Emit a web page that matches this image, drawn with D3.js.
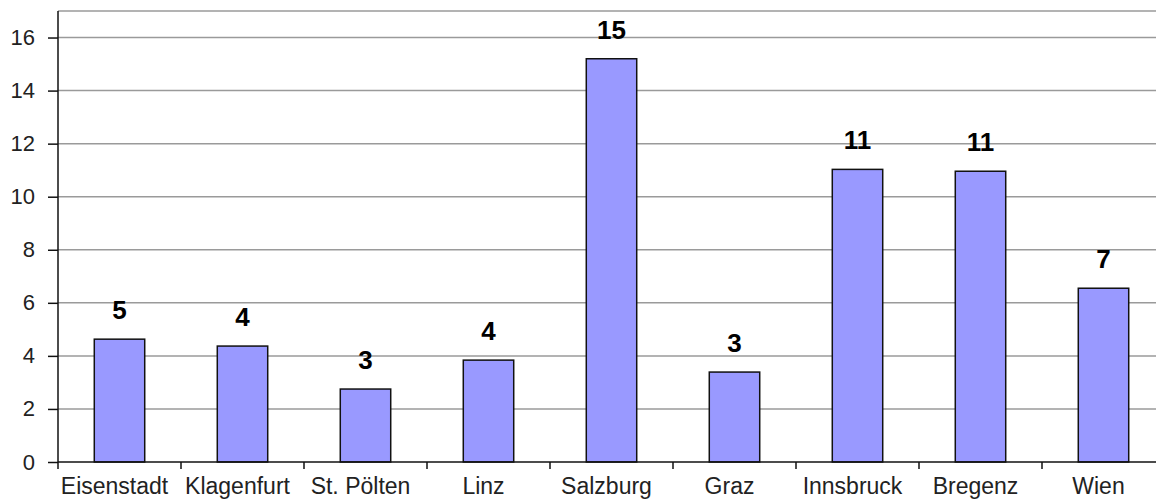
<!DOCTYPE html>
<html>
<head>
<meta charset="utf-8">
<script src="https://cdn.jsdelivr.net/npm/d3@7"></script>
<style>
  body { margin: 0; background: #fff; }
  text { font-family: "Liberation Sans", Arial, sans-serif; }
</style>
</head>
<body>
<div class="chart"></div>
<script>
'use strict'
// Data
const cities = ['Eisenstadt', 'Klagenfurt', 'St. Pölten', 'Linz', 'Salzburg', 'Graz', 'Innsbruck', 'Bregenz', 'Wien']
const values = [4.63, 4.37, 2.75, 3.84, 15.2, 3.39, 11.03, 10.96, 6.55]
const valueLabels = ['5', '4', '3', '4', '15', '3', '11', '11', '7']
const yTicks = [0, 2, 4, 6, 8, 10, 12, 14, 16]

const data = cities.map((c, i) => ({ city: c, value: values[i], label: valueLabels[i] }))

const W = 1156, H = 500
const margin = { top: 11, right: -9, bottom: 38, left: 58 }
const width = W - margin.left - margin.right
const height = H - margin.top - margin.bottom

const x = d3.scaleBand(cities, [0, width]).paddingInner(0.59).paddingOuter(0.295)
const band = d3.scaleBand(cities, [0, width])
const y = d3.scaleLinear([0, 17], [height, 0])

const svg = d3.select('.chart').append('svg')
  .attr('width', W).attr('height', H)
  .append('g')
  .attr('transform', `translate(${margin.left},${margin.top})`)

// gridlines
svg.append('g')
  .selectAll('line')
  .data(yTicks.filter(d => d > 0).concat([17]))
  .join('line')
  .attr('x1', 0).attr('x2', width)
  .attr('y1', d => y(d)).attr('y2', d => y(d))
  .attr('stroke', '#9a9a9a').attr('stroke-width', 1.5)

// bars
svg.append('g')
  .selectAll('rect')
  .data(data)
  .join('rect')
  .attr('x', d => x(d.city))
  .attr('y', d => y(d.value))
  .attr('width', x.bandwidth())
  .attr('height', d => y(0) - y(d.value))
  .attr('fill', '#9999ff')
  .attr('stroke', '#111')
  .attr('stroke-width', 1.5)

// value labels
svg.append('g')
  .selectAll('text')
  .data(data)
  .join('text')
  .attr('x', d => x(d.city) + x.bandwidth() / 2)
  .attr('y', d => y(d.value) - 20)
  .attr('text-anchor', 'middle')
  .style('font-size', '26px')
  .style('font-weight', 'bold')
  .attr('fill', '#000')
  .text(d => d.label)

// y axis
const yAxis = svg.append('g')
  .call(d3.axisLeft(y).tickValues(yTicks).tickSize(10).tickPadding(13))
yAxis.select('.domain').attr('d', `M0,${height}V0`).attr('stroke', '#111').attr('stroke-width', 1.5)
yAxis.selectAll('.tick line').attr('stroke', '#111').attr('stroke-width', 1.5)
yAxis.selectAll('text').style('font-size', '22px').attr('fill', '#222')
  .attr('font-family', null)

// x axis
const xAxis = svg.append('g')
  .attr('transform', `translate(0,${height})`)
  .call(d3.axisBottom(x).tickSize(0).tickPadding(16))
xAxis.select('.domain').attr('d', `M0,0H${width}`).attr('stroke', '#111').attr('stroke-width', 1.5)
xAxis.selectAll('text').style('font-size', '23px').attr('fill', '#222')
  .attr('font-family', null).attr('dy', '0.71em')
  .attr('dx', '-5')
// category separator ticks
xAxis.append('g')
  .selectAll('line')
  .data(cities)
  .join('line')
  .attr('x1', d => band(d)).attr('x2', d => band(d))
  .attr('y1', 0).attr('y2', 7)
  .attr('stroke', '#111').attr('stroke-width', 1.5)
</script>
</body>
</html>
